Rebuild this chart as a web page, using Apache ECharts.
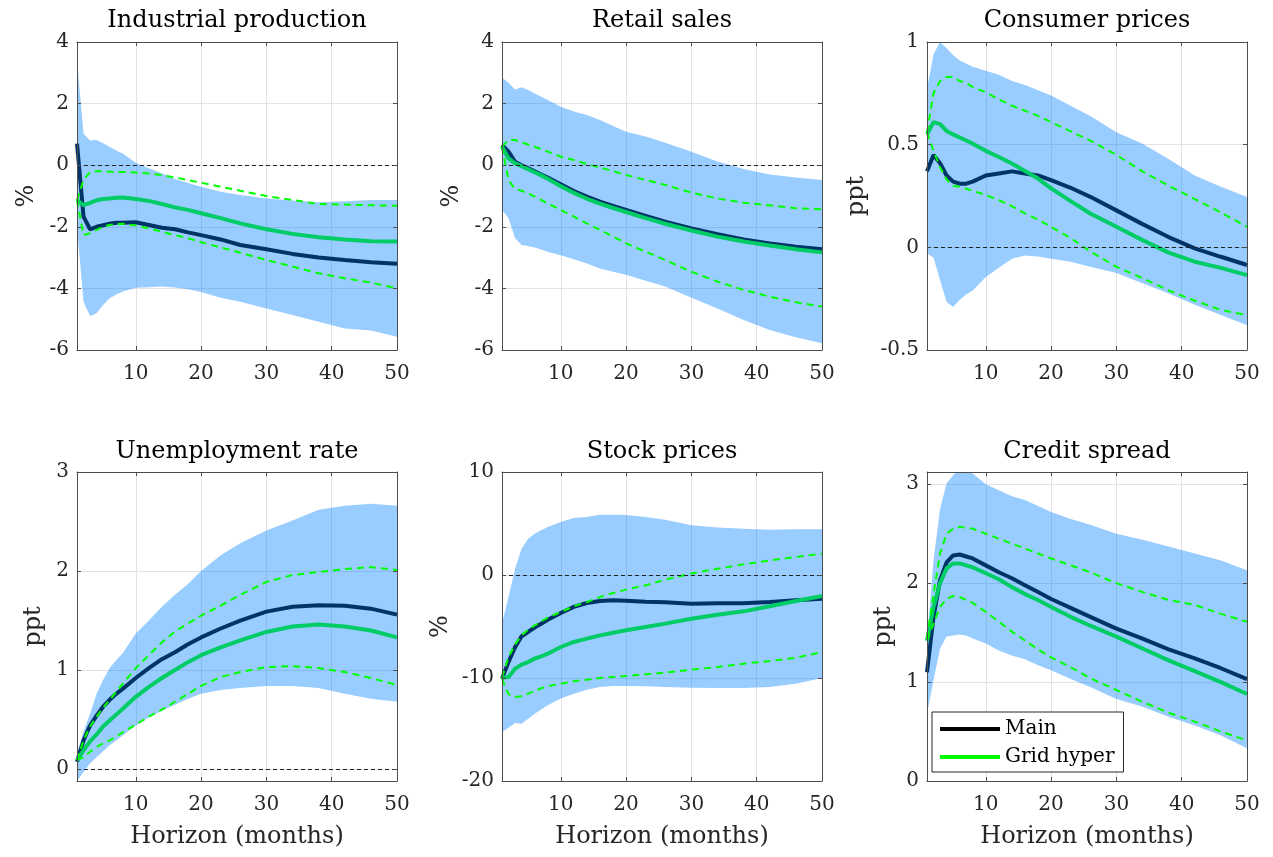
<!DOCTYPE html>
<html><head><meta charset="utf-8">
<script src="https://cdn.jsdelivr.net/npm/echarts@6/dist/echarts.min.js"></script>
<style>html,body{margin:0;padding:0;background:#fff}#c{width:1273px;height:857px}</style>
</head><body><div id="c"></div>
<script>
// ---------------- DATA ----------------
const horizons = [1,2,3,4,5,6,7,8,10,12,14,16,18,20,23,26,30,34,38,42,46,50];

const titles = ['Industrial production','Retail sales','Consumer prices','Unemployment rate','Stock prices','Credit spread'];
const units  = ['%','%','ppt','ppt','%','ppt'];
const xAxisTitle = 'Horizon (months)';
const legendNames = ['Main','Grid hyper'];

// Industrial production
const ipMain   = [0.7,-1.67,-2.08,-2.0,-1.95,-1.9,-1.87,-1.87,-1.85,-1.94,-2.03,-2.08,-2.18,-2.27,-2.41,-2.59,-2.73,-2.88,-3.0,-3.08,-3.15,-3.2];
const ipGrid   = [-1.13,-1.3,-1.22,-1.14,-1.1,-1.08,-1.06,-1.05,-1.1,-1.16,-1.26,-1.37,-1.45,-1.56,-1.72,-1.89,-2.08,-2.23,-2.34,-2.41,-2.47,-2.48];
const ipGridHi = [-1.13,-0.48,-0.22,-0.2,-0.2,-0.21,-0.22,-0.22,-0.24,-0.27,-0.32,-0.4,-0.48,-0.57,-0.7,-0.83,-1.0,-1.13,-1.26,-1.28,-1.3,-1.32];
const ipGridLo = [-1.13,-2.27,-2.21,-2.1,-2.0,-1.94,-1.91,-1.9,-1.96,-2.05,-2.16,-2.27,-2.37,-2.5,-2.67,-2.84,-3.08,-3.29,-3.51,-3.67,-3.81,-4.0];
const ipBandHi = [3.4,1.03,0.8,0.82,0.71,0.6,0.48,0.38,0.08,-0.1,-0.26,-0.45,-0.58,-0.7,-0.86,-0.97,-1.08,-1.15,-1.2,-1.17,-1.13,-1.13];
const ipBandLo = [-2.0,-4.43,-4.9,-4.81,-4.54,-4.32,-4.2,-4.1,-3.98,-3.96,-3.94,-3.97,-4.03,-4.12,-4.3,-4.43,-4.65,-4.86,-5.08,-5.3,-5.37,-5.57];

// Retail sales
const rsMain   = [0.66,0.44,0.11,0.0,-0.1,-0.2,-0.3,-0.4,-0.62,-0.84,-1.02,-1.18,-1.32,-1.45,-1.65,-1.83,-2.05,-2.24,-2.41,-2.54,-2.65,-2.73];
const rsGrid   = [0.6,0.22,0.06,-0.03,-0.13,-0.23,-0.33,-0.44,-0.68,-0.9,-1.09,-1.25,-1.39,-1.52,-1.72,-1.9,-2.12,-2.32,-2.48,-2.61,-2.73,-2.83];
const rsGridHi = [0.6,0.82,0.82,0.74,0.67,0.6,0.52,0.44,0.28,0.17,0.04,-0.08,-0.19,-0.32,-0.48,-0.64,-0.89,-1.08,-1.22,-1.3,-1.4,-1.43];
const rsGridLo = [0.6,-0.48,-0.78,-0.83,-0.92,-1.02,-1.13,-1.24,-1.45,-1.67,-1.89,-2.1,-2.32,-2.54,-2.81,-3.08,-3.46,-3.78,-4.05,-4.27,-4.45,-4.59];
const rsBandHi = [2.85,2.68,2.46,2.53,2.44,2.33,2.22,2.12,1.9,1.74,1.63,1.47,1.27,1.09,0.93,0.73,0.44,0.12,-0.12,-0.3,-0.4,-0.48];
const rsBandLo = [-1.45,-1.72,-2.37,-2.59,-2.62,-2.67,-2.74,-2.81,-2.92,-3.05,-3.19,-3.35,-3.46,-3.56,-3.75,-3.94,-4.3,-4.65,-5.03,-5.35,-5.59,-5.78];

// Consumer prices
const cpMain   = [0.37,0.45,0.41,0.35,0.32,0.31,0.31,0.32,0.35,0.36,0.37,0.36,0.35,0.327,0.29,0.246,0.18,0.113,0.05,-0.005,-0.046,-0.086];
const cpGrid   = [0.55,0.61,0.6,0.567,0.55,0.535,0.52,0.505,0.47,0.44,0.408,0.372,0.335,0.287,0.225,0.165,0.1,0.035,-0.026,-0.07,-0.1,-0.135];
const cpGridHi = [0.56,0.75,0.81,0.83,0.83,0.81,0.8,0.78,0.755,0.72,0.69,0.665,0.64,0.61,0.565,0.52,0.45,0.37,0.3,0.235,0.17,0.1];
const cpGridLo = [0.56,0.47,0.39,0.33,0.3,0.295,0.285,0.275,0.255,0.23,0.2,0.165,0.135,0.1,0.045,-0.02,-0.095,-0.15,-0.21,-0.26,-0.305,-0.33];
const cpBandHi = [0.77,0.94,1.0,0.97,0.935,0.91,0.895,0.88,0.86,0.84,0.81,0.79,0.765,0.74,0.69,0.64,0.56,0.505,0.43,0.35,0.295,0.245];
const cpBandLo = [-0.03,-0.05,-0.16,-0.265,-0.29,-0.255,-0.23,-0.21,-0.145,-0.1,-0.055,-0.04,-0.045,-0.055,-0.07,-0.095,-0.125,-0.175,-0.225,-0.28,-0.33,-0.38];

// Unemployment rate
const urMain   = [0.074,0.29,0.44,0.54,0.63,0.7,0.76,0.81,0.92,1.02,1.11,1.18,1.26,1.33,1.42,1.5,1.59,1.64,1.655,1.65,1.62,1.56];
const urGrid   = [0.09,0.19,0.28,0.35,0.43,0.49,0.55,0.61,0.73,0.83,0.92,1.0,1.08,1.15,1.23,1.3,1.385,1.44,1.46,1.44,1.4,1.33];
const urGridHi = [0.09,0.29,0.43,0.53,0.62,0.7,0.78,0.86,1.02,1.15,1.28,1.39,1.47,1.55,1.65,1.76,1.89,1.96,1.99,2.02,2.04,2.01];
const urGridLo = [0.09,0.12,0.175,0.225,0.26,0.29,0.33,0.37,0.45,0.53,0.6,0.68,0.76,0.84,0.93,0.98,1.03,1.04,1.02,0.98,0.92,0.85];
const urBandHi = [0.16,0.38,0.56,0.76,0.9,1.02,1.1,1.17,1.37,1.5,1.64,1.76,1.87,2.0,2.16,2.28,2.41,2.51,2.62,2.66,2.68,2.66];
const urBandLo = [-0.12,-0.03,0.06,0.12,0.18,0.24,0.29,0.34,0.44,0.52,0.59,0.65,0.71,0.76,0.8,0.82,0.84,0.84,0.82,0.76,0.71,0.68];

// Stock prices
const spMain   = [-10.06,-8.45,-7.0,-5.95,-5.53,-5.1,-4.73,-4.34,-3.69,-3.1,-2.72,-2.52,-2.46,-2.49,-2.6,-2.65,-2.78,-2.75,-2.75,-2.62,-2.46,-2.3];
const spGrid   = [-9.97,-9.9,-9.1,-8.7,-8.45,-8.12,-7.9,-7.64,-6.99,-6.5,-6.18,-5.86,-5.6,-5.37,-5.05,-4.72,-4.24,-3.85,-3.53,-3.04,-2.52,-2.04];
const spGridHi = [-9.97,-7.96,-6.73,-5.86,-5.3,-4.89,-4.5,-4.14,-3.59,-3.04,-2.62,-2.14,-1.75,-1.42,-1.0,-0.45,0.15,0.61,1.04,1.42,1.75,2.07];
const spGridLo = [-10.06,-11.59,-11.84,-11.78,-11.52,-11.25,-11.0,-10.8,-10.55,-10.32,-10.16,-10.0,-9.9,-9.81,-9.64,-9.48,-9.19,-8.93,-8.61,-8.35,-8.03,-7.48];
const spBandHi = [-4.72,-2.14,0.61,2.56,3.53,4.01,4.35,4.66,5.15,5.53,5.63,5.86,5.86,5.83,5.63,5.37,4.82,4.6,4.5,4.4,4.43,4.43];
const spBandLo = [-15.24,-14.82,-14.37,-14.43,-13.95,-13.46,-13.05,-12.65,-12.0,-11.52,-11.13,-10.87,-10.78,-10.78,-10.81,-10.87,-10.94,-10.97,-10.97,-10.87,-10.55,-10.0];

// Credit spread
const csMain   = [1.1,1.66,2.03,2.21,2.28,2.29,2.27,2.25,2.18,2.11,2.05,1.98,1.91,1.84,1.75,1.66,1.54,1.44,1.33,1.24,1.14,1.03];
const csGrid   = [1.42,1.76,2.0,2.15,2.2,2.2,2.18,2.16,2.1,2.04,1.96,1.89,1.83,1.76,1.66,1.57,1.46,1.34,1.22,1.11,1.0,0.88];
const csGridHi = [1.44,1.89,2.3,2.5,2.55,2.57,2.56,2.55,2.5,2.45,2.4,2.35,2.3,2.25,2.18,2.11,2.0,1.91,1.83,1.78,1.69,1.61];
const csGridLo = [1.42,1.59,1.76,1.84,1.87,1.86,1.83,1.8,1.71,1.61,1.51,1.42,1.33,1.25,1.15,1.04,0.92,0.8,0.69,0.6,0.5,0.41];
const csBandHi = [1.42,2.23,2.75,3.01,3.09,3.16,3.16,3.11,3.0,2.94,2.88,2.84,2.78,2.72,2.65,2.59,2.5,2.44,2.37,2.3,2.23,2.13];
const csBandLo = [0.68,1.02,1.34,1.46,1.47,1.48,1.47,1.44,1.39,1.32,1.27,1.23,1.17,1.12,1.03,0.95,0.83,0.75,0.65,0.56,0.46,0.33];

// y-axis ranges [min, max, tick step]
const yRanges = [[-6,4,2],[-6,4,2],[-0.5,1,0.5],[-0.12,3,1],[-20,10,10],[0,3.124,1]];
const xRange = [1,50,10];

// ---------------- CHART ----------------
const panelData = [
  {main: ipMain, grid: ipGrid, hi: ipGridHi, lo: ipGridLo, bHi: ipBandHi, bLo: ipBandLo},
  {main: rsMain, grid: rsGrid, hi: rsGridHi, lo: rsGridLo, bHi: rsBandHi, bLo: rsBandLo},
  {main: cpMain, grid: cpGrid, hi: cpGridHi, lo: cpGridLo, bHi: cpBandHi, bLo: cpBandLo},
  {main: urMain, grid: urGrid, hi: urGridHi, lo: urGridLo, bHi: urBandHi, bLo: urBandLo},
  {main: spMain, grid: spGrid, hi: spGridHi, lo: spGridLo, bHi: spBandHi, bLo: spBandLo},
  {main: csMain, grid: csGrid, hi: csGridHi, lo: csGridLo, bHi: csBandHi, bLo: csBandLo}
];
const layout = [
  {left: 77,  top: 42,  h: 308, yGap: 38, tGap: 9},
  {left: 502, top: 42,  h: 308, yGap: 38, tGap: 9},
  {left: 927, top: 42,  h: 308, yGap: 58, tGap: 9},
  {left: 77,  top: 472, h: 309, yGap: 31, tGap: 8},
  {left: 502, top: 472, h: 309, yGap: 49, tGap: 8},
  {left: 927, top: 472, h: 309, yGap: 31, tGap: 8}
];

const FONT = 'DejaVu Serif';
const AX = '#4d4d4d';
const TXT = '#262626';
const GRIDLINE = '#e2e2e2';
const BAND = 'rgba(0,128,255,0.4)';
const isMult = (v, s) => Math.abs(v / s - Math.round(v / s)) < 1e-9;
const zip = ys => horizons.map((h, k) => [h, ys[k]]);

const grids = [], xAxes = [], yAxes = [], series = [];
const frameLine = {show: true, onZero: false, lineStyle: {color: AX, width: 1}};
const frameTick = {show: true, inside: true, length: 4, lineStyle: {color: AX, width: 1}};

panelData.forEach((d, i) => {
  const L = layout[i];
  grids.push({left: L.left, top: L.top, width: 320, height: L.h, containLabel: false, outerBoundsMode: 'none'});
  const xb = {gridIndex: i, type: 'value', min: xRange[0], max: xRange[1], minInterval: xRange[2], maxInterval: xRange[2]};
  xAxes.push(Object.assign({}, xb, {
    position: 'bottom', z: 0,
    axisLine: {show: false, onZero: false}, axisTick: {show: false},
    axisLabel: {show: true, showMinLabel: false, showMaxLabel: true, margin: 14, color: TXT, fontFamily: FONT, fontSize: 20},
    splitLine: {show: true, lineStyle: {color: GRIDLINE, width: 1}},
    name: i >= 3 ? xAxisTitle : '', nameLocation: 'middle', nameGap: 44,
    nameTextStyle: {fontFamily: FONT, fontSize: 24, color: TXT}
  }));
  xAxes.push(Object.assign({}, xb, {
    position: 'bottom', z: 10, axisLine: frameLine, axisTick: frameTick,
    axisLabel: {show: false}, splitLine: {show: false}
  }));
  xAxes.push(Object.assign({}, xb, {
    position: 'top', z: 10, axisLine: frameLine, axisTick: frameTick,
    axisLabel: {show: false}, splitLine: {show: false},
    name: titles[i], nameLocation: 'middle', nameGap: L.tGap,
    nameTextStyle: {fontFamily: FONT, fontSize: 24, color: '#000'}
  }));

  const [ymin, ymax, ystep] = yRanges[i];
  const yb = {gridIndex: i, type: 'value', min: ymin, max: ymax, minInterval: ystep, maxInterval: ystep};
  yAxes.push(Object.assign({}, yb, {
    position: 'left', z: 0,
    axisLine: {show: false, onZero: false}, axisTick: {show: false},
    axisLabel: {show: true, showMinLabel: isMult(ymin, ystep), showMaxLabel: isMult(ymax, ystep), margin: 8, color: TXT, fontFamily: FONT, fontSize: 20},
    splitLine: {show: true, lineStyle: {color: GRIDLINE, width: 1}},
    name: units[i], nameLocation: 'middle', nameGap: L.yGap,
    nameTextStyle: {fontFamily: FONT, fontSize: 24, color: TXT}
  }));
  yAxes.push(Object.assign({}, yb, {
    position: 'left', z: 10, axisLine: frameLine, axisTick: frameTick,
    axisLabel: {show: false}, splitLine: {show: false}
  }));
  yAxes.push(Object.assign({}, yb, {
    position: 'right', z: 10, axisLine: frameLine, axisTick: frameTick,
    axisLabel: {show: false}, splitLine: {show: false}
  }));

  // credible band: one polygon through the library's coordinate system
  series.push({
    type: 'custom', name: 'band-' + i, xAxisIndex: 3 * i, yAxisIndex: 3 * i,
    silent: true, clip: true, z: 1, animation: false,
    data: horizons.map((h, k) => [h, d.bLo[k], d.bHi[k]]),
    encode: {x: 0, y: [1, 2]},
    renderItem: (params, api) => {
      if (params.dataIndex !== 0) return null;
      const pts = [];
      for (let k = 0; k < horizons.length; k++) pts.push(api.coord([horizons[k], d.bHi[k]]));
      for (let k = horizons.length - 1; k >= 0; k--) pts.push(api.coord([horizons[k], d.bLo[k]]));
      return {type: 'polygon', shape: {points: pts}, style: {fill: BAND}, silent: true};
    }
  });

  const ax = {xAxisIndex: 3 * i, yAxisIndex: 3 * i, type: 'line', symbol: 'none', showSymbol: false,
              silent: true, emphasis: {disabled: true}, animation: false};
  series.push(Object.assign({}, ax, {
    name: legendNames[0], data: zip(d.main),
    lineStyle: {color: '#003366', width: 4}, itemStyle: {color: '#003366'}, z: 3,
    markLine: {silent: true, symbol: ['none', 'none'], label: {show: false}, animation: false,
               emphasis: {disabled: true},
               lineStyle: {color: '#222', width: 1, type: [4, 3]}, data: [{yAxis: 0}]}
  }));
  series.push(Object.assign({}, ax, {
    name: legendNames[1], data: zip(d.grid),
    lineStyle: {color: '#00cc66', width: 4}, itemStyle: {color: '#00cc66'}, z: 3
  }));
  series.push(Object.assign({}, ax, {
    name: 'grid-lo-' + i, data: zip(d.lo),
    lineStyle: {color: '#00ff00', width: 2, type: [7, 5]}, itemStyle: {color: '#00ff00'}, z: 3
  }));
  series.push(Object.assign({}, ax, {
    name: 'grid-hi-' + i, data: zip(d.hi),
    lineStyle: {color: '#00ff00', width: 2, type: [7, 5]}, itemStyle: {color: '#00ff00'}, z: 3
  }));
});

const option = {
  animation: false,
  backgroundColor: '#fff',
  textStyle: {fontFamily: FONT},
  grid: grids, xAxis: xAxes, yAxis: yAxes, series: series,
  legend: {
    show: true, orient: 'vertical', left: 932, top: 712,
    padding: [7, 9, 5, 6], itemGap: 8, itemWidth: 60, itemHeight: 14,
    backgroundColor: '#fff', borderColor: '#262626', borderWidth: 1, borderRadius: 0,
    selectedMode: false, z: 20,
    textStyle: {fontFamily: FONT, fontSize: 20, color: '#000'},
    data: [
      {name: legendNames[0], itemStyle: {color: '#000', opacity: 0}, lineStyle: {color: '#000', width: 4}},
      {name: legendNames[1], itemStyle: {color: '#00ff00', opacity: 0}, lineStyle: {color: '#00ff00', width: 4}}
    ]
  }
};
const chart = echarts.init(document.getElementById('c'), null, {renderer: 'canvas'});
chart.setOption(option);
</script></body></html>
